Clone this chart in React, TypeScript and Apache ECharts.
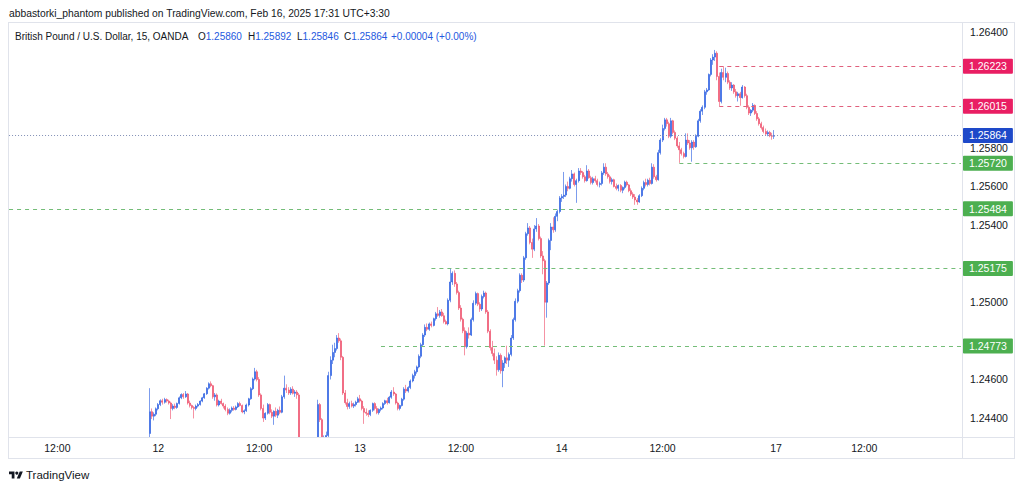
import React, { useEffect, useRef } from 'react';
import * as echarts from 'echarts';

// ---------- data ----------
// Prices stored in units of 0.00001 above 1.20000  (e.g. 5864 -> 1.25864)
const BASE = 1.2;
// bar index 0 = Feb 12 00:00 (15-minute bars); categories span the visible window
const FIRST_INDEX = -71;
const LAST_INDEX = 382;
const FIRST_BAR = -4;

// [open, high, low, close] per 15-min bar, starting at FIRST_BAR
const candles: number[][] = [
  [4320,4555,4290,4433],[4433,4450,4395,4410],[4410,4430,4388,4420],[4420,4455,4410,4448],
  [4448,4478,4440,4470],[4470,4497,4462,4490],[4490,4500,4470,4482],[4482,4505,4475,4496],[4496,4502,4480,4488],
  [4488,4495,4470,4478],[4478,4485,4395,4450],[4450,4472,4440,4462],[4462,4475,4446,4455],[4455,4480,4448,4476],
  [4476,4512,4470,4505],[4505,4528,4498,4522],[4522,4530,4500,4510],[4510,4540,4505,4525],[4525,4530,4470,4478],
  [4478,4490,4455,4465],[4465,4470,4445,4455],[4455,4462,4398,4450],[4450,4470,4440,4462],[4462,4478,4455,4470],
  [4470,4492,4465,4488],[4488,4510,4482,4505],[4505,4530,4500,4526],[4526,4560,4520,4555],[4555,4585,4548,4578],
  [4578,4590,4560,4568],[4568,4572,4500,4510],[4510,4530,4490,4520],[4520,4528,4460,4468],[4468,4495,4460,4488],
  [4488,4500,4470,4475],[4475,4480,4450,4462],[4462,4472,4435,4445],[4445,4455,4415,4425],[4425,4450,4418,4440],
  [4440,4460,4430,4452],[4452,4462,4438,4445],[4445,4465,4440,4458],[4458,4482,4452,4475],[4475,4485,4460,4465],
  [4465,4470,4425,4432],[4432,4445,4420,4438],[4438,4475,4432,4468],[4468,4505,4460,4500],[4500,4560,4495,4552],
  [4552,4610,4545,4602],[4602,4660,4595,4640],[4640,4650,4590,4600],[4600,4612,4510,4520],[4520,4528,4440,4450],
  [4450,4470,4380,4400],[4400,4430,4390,4425],[4425,4478,4418,4470],[4470,4475,4420,4430],[4430,4445,4400,4410],
  [4410,4440,4365,4435],[4435,4455,4405,4415],[4415,4448,4400,4440],[4440,4460,4420,4430],[4430,4520,4425,4510],
  [4510,4620,4500,4555],[4555,4575,4530,4545],[4545,4560,4520,4530],[4530,4560,4520,4550],[4550,4565,4522,4528],
  [4528,4545,4510,4535],[4535,4545,4500,4520],[4520,4530,4240,4260],[4260,4285,4180,4210],[4210,4240,4160,4190],
  [4190,4230,4150,4220],[4220,4260,4180,4240],[4240,4280,4200,4230],[4230,4270,4190,4255],[4255,4290,4215,4270],
  [4270,4300,4240,4290],[4290,4495,4280,4470],[4470,4478,4380,4392],[4392,4400,4260,4280],[4280,4310,4230,4290],
  [4290,4330,4260,4310],[4310,4640,4300,4620],[4620,4720,4600,4700],[4700,4780,4680,4740],[4740,4790,4715,4760],
  [4760,4830,4750,4815],[4815,4840,4790,4800],[4800,4812,4700,4715],[4715,4722,4520,4530],[4530,4545,4470,4480],
  [4480,4500,4445,4460],[4460,4485,4448,4475],[4475,4490,4455,4462],[4462,4480,4452,4470],[4470,4490,4460,4482],
  [4482,4510,4478,4500],[4500,4520,4480,4488],[4488,4495,4440,4450],[4450,4462,4370,4430],[4430,4450,4412,4425],
  [4425,4440,4405,4418],[4418,4445,4410,4440],[4440,4480,4432,4475],[4475,4482,4440,4450],[4450,4462,4420,4428],
  [4428,4450,4418,4445],[4445,4460,4435,4452],[4452,4482,4445,4475],[4475,4495,4468,4490],[4490,4505,4470,4480],
  [4480,4515,4475,4508],[4508,4545,4500,4535],[4535,4560,4515,4525],[4525,4530,4470,4478],[4478,4485,4440,4450],
  [4450,4470,4440,4465],[4465,4505,4460,4498],[4498,4560,4490,4550],[4550,4572,4530,4540],[4540,4565,4532,4558],
  [4558,4600,4550,4592],[4592,4630,4585,4620],[4620,4650,4605,4640],[4640,4672,4630,4665],[4665,4730,4658,4720],
  [4720,4790,4710,4780],[4780,4840,4770,4830],[4830,4885,4820,4870],[4870,4890,4850,4860],[4860,4895,4852,4888],
  [4888,4900,4870,4880],[4880,4920,4875,4915],[4915,4950,4905,4940],[4940,4975,4925,4932],[4932,4960,4920,4950],
  [4950,4965,4925,4930],[4930,4945,4890,4900],[4900,4910,4885,4888],[4888,5020,4880,5010],[5010,5177,5000,5105],
  [5105,5160,5090,5150],[5150,5165,5080,5095],[5095,5105,5040,5050],[5050,5060,4960,4970],[4970,4985,4900,4912],
  [4912,4920,4840,4852],[4852,4870,4725,4770],[4770,4850,4760,4840],[4840,4870,4812,4830],[4830,4920,4825,4910],
  [4910,5010,4900,4995],[4995,5055,4985,5045],[5045,5050,4980,4990],[4990,5000,4950,4965],[4965,5040,4955,5030],
  [5030,5060,5020,5048],[5048,5055,4940,4950],[4950,4960,4840,4850],[4850,4860,4750,4765],[4765,4800,4720,4735],
  [4735,4760,4680,4700],[4700,4720,4620,4650],[4650,4740,4640,4725],[4725,4735,4630,4645],[4645,4700,4560,4685],
  [4685,4720,4660,4712],[4712,4775,4680,4700],[4700,4740,4665,4730],[4730,4830,4720,4815],[4815,4920,4805,4910],
  [4910,5020,4900,5005],[5005,5070,4995,5060],[5060,5150,5050,5140],[5140,5150,5100,5115],[5115,5240,5105,5230],
  [5230,5365,5220,5355],[5355,5410,5345,5385],[5385,5395,5300,5310],[5310,5330,5230,5275],[5275,5400,5265,5380],
  [5380,5436,5365,5395],[5395,5405,5320,5330],[5330,5340,5230,5240],[5240,5265,5145,5215],[5215,5225,4775,5000],
  [5000,5110,4920,5100],[5100,5330,5090,5320],[5320,5410,5270,5390],[5390,5440,5360,5375],[5375,5460,5365,5445],
  [5445,5480,5420,5470],[5470,5550,5460,5540],[5540,5560,5520,5548],[5548,5675,5535,5555],[5555,5610,5545,5600],
  [5600,5625,5575,5590],[5590,5650,5585,5640],[5640,5685,5625,5665],[5665,5672,5600,5610],[5610,5640,5515,5630],
  [5630,5695,5620,5680],[5680,5695,5660,5672],[5672,5680,5640,5650],[5650,5660,5620,5630],[5630,5710,5625,5680],
  [5680,5690,5640,5645],[5645,5655,5610,5620],[5620,5650,5610,5640],[5640,5655,5620,5630],[5630,5640,5600,5610],
  [5610,5625,5595,5615],[5615,5680,5605,5670],[5670,5720,5660,5700],[5700,5720,5655,5665],[5665,5675,5640,5650],
  [5650,5660,5615,5625],[5625,5645,5610,5635],[5635,5640,5595,5600],[5600,5615,5580,5590],[5590,5610,5575,5605],
  [5605,5612,5570,5580],[5580,5600,5565,5595],[5595,5630,5585,5622],[5622,5630,5600,5608],[5608,5612,5570,5578],
  [5578,5590,5550,5560],[5560,5570,5535,5545],[5545,5560,5505,5530],[5530,5540,5505,5520],[5520,5560,5515,5552],
  [5552,5600,5545,5590],[5590,5630,5580,5620],[5620,5640,5600,5610],[5610,5640,5600,5632],[5632,5645,5605,5615],
  [5615,5720,5610,5700],[5700,5715,5640,5650],[5650,5660,5625,5635],[5635,5790,5630,5775],[5775,5850,5765,5840],
  [5840,5920,5830,5900],[5900,5955,5890,5945],[5945,5955,5910,5925],[5925,5935,5850,5860],[5860,5955,5850,5940],
  [5940,5945,5870,5880],[5880,5890,5840,5850],[5850,5860,5800,5810],[5810,5830,5722,5790],[5790,5800,5760,5770],
  [5770,5780,5745,5755],[5755,5875,5750,5840],[5840,5875,5815,5825],[5825,5840,5790,5800],[5800,5840,5728,5830],
  [5830,5840,5790,5805],[5805,5870,5800,5860],[5860,5950,5855,5940],[5940,6000,5930,5990],[5990,6020,5970,6010],
  [6010,6100,6000,6090],[6090,6110,6075,6100],[6100,6185,6095,6180],[6180,6265,6170,6255],[6255,6285,6230,6270],
  [6270,6307,6250,6290],[6290,6300,6150,6170],[6170,6190,6015,6040],[6040,6210,6030,6190],[6190,6223,6150,6165],
  [6165,6215,6140,6185],[6185,6195,6130,6140],[6140,6150,6100,6110],[6110,6140,6095,6125],[6125,6130,6080,6090],
  [6090,6105,6060,6070],[6070,6090,6040,6080],[6080,6090,6018,6060],[6060,6125,6055,6115],[6115,6120,6060,6070],
  [6070,6080,6000,6010],[6010,6020,5970,5980],[5980,6000,5965,5995],[5995,6032,5985,6020],[6020,6025,5970,5978],
  [5978,5990,5940,5950],[5950,5960,5915,5925],[5925,5935,5895,5905],[5905,5915,5875,5885],[5885,5900,5865,5872],
  [5872,5890,5860,5880],[5880,5888,5855,5862],[5862,5878,5842,5860],[5860,5892,5846,5864],
];

// time-axis labels: [bar index, text]
const timeLabelIdx = [-48, 0, 48, 96, 144, 192, 240, 294, 336];
const timeLabelTxt = ['12:00', '12', '12:00', '13', '12:00', '14', '12:00', '17', '12:00'];

// price-axis tick labels that are visible (others hidden behind tags)
const priceTicks = ['1.24400', '1.24600', '1.25000', '1.25400', '1.25600', '1.25800', '1.26400'];

// horizontal levels
const levelPrices = [1.26223, 1.26015, 1.25864, 1.2572, 1.25484, 1.25175, 1.24773];
const levelStarts = [267, 267, FIRST_INDEX, 248, FIRST_INDEX, 130, 106];
const levelKinds = ['res', 'res', 'last', 'sup', 'sup', 'sup', 'sup'];

const Y_MIN = 1.24302;
const Y_MAX = 1.264518;

const UP = '#2459e0';
const DOWN = '#ee4a66';
const FONT = '"Liberation Sans", Arial, sans-serif';
const TEXT = '#131722';
const BORDER = '#e0e3eb';

const p = (v: number) => +(BASE + v / 1e5).toFixed(5);

export default function App() {
  const ref = useRef<HTMLDivElement>(null);
  useEffect(() => {
    if (!ref.current) return;
    document.body.style.margin = '0';
    echarts.graphic.registerShape(
      'tvlogo',
      echarts.graphic.extendPath('M14 22H7V11H0V4h14v18zM28 22h-8l7.5-18h8L28 22z', {}) as any
    );
    const chart = echarts.init(ref.current, undefined, { renderer: 'svg' });

    const categories: string[] = [];
    for (let i = FIRST_INDEX; i <= LAST_INDEX; i++) categories.push(String(i));
    const labelMap = new Map<number, string>();
    timeLabelIdx.forEach((ix, k) => labelMap.set(ix, timeLabelTxt[k]));

    const candleData = categories.map((c) => {
      const j = Number(c) - FIRST_BAR;
      if (j < 0 || j >= candles.length) return ['-', '-', '-', '-'];
      const [o, h, l, cl] = candles[j];
      return [p(o), p(cl), p(l), p(h)];
    });

    const markData = levelPrices.map((price, k) => {
      const kind = levelKinds[k];
      const lineColor = kind === 'res' ? '#e0607c' : kind === 'sup' ? '#74bd78' : '#8390b6';
      const tagColor = kind === 'res' ? '#e91e63' : kind === 'sup' ? '#4caf50' : '#1e49c9';
      return [
        {
          coord: [String(levelStarts[k]), price],
          lineStyle: { color: lineColor, width: 1, type: kind === 'last' ? [1, 2] : [4, 4] },
          label: {
            show: true,
            position: 'end',
            distance: 2,
            formatter: price.toFixed(5),
            backgroundColor: tagColor,
            color: '#ffffff',
            fontSize: 10.5,
            fontFamily: FONT,
            padding: [2, 6, 2, 6],
            borderRadius: 1,
          },
        },
        { coord: [String(LAST_INDEX), price] },
      ];
    });

    const option: any = {
      animation: false,
      backgroundColor: '#ffffff',
      grid: { left: 8, right: 62, top: 22, bottom: 53, containLabel: false },
      xAxis: {
        type: 'category',
        data: categories,
        boundaryGap: true,
        z: 20,
        axisLine: { show: false },
        axisTick: { show: false },
        splitLine: { show: false },
        axisLabel: {
          interval: (_idx: number, val: string) => labelMap.has(Number(val)),
          formatter: (val: string) => labelMap.get(Number(val)) ?? '',
          margin: 5,
          fontSize: 10.5,
          color: TEXT,
          fontFamily: FONT,
        },
      },
      yAxis: {
        type: 'value',
        position: 'right',
        min: Y_MIN,
        max: Y_MAX,
        splitNumber: 10,
        minInterval: 0.002,
        maxInterval: 0.002,
        axisLine: { show: false },
        axisTick: { show: false },
        splitLine: { show: false },
        axisLabel: {
          showMinLabel: false,
          showMaxLabel: false,
          margin: 8,
          fontSize: 10.5,
          color: TEXT,
          fontFamily: FONT,
          formatter: (v: number) => {
            const s = v.toFixed(5);
            return priceTicks.includes(s) ? s : '';
          },
        },
      },
      series: [
        {
          type: 'candlestick',
          data: candleData,
          barWidth: 1.5,
          clip: false,
          itemStyle: {
            color: UP, color0: DOWN, borderColor: UP, borderColor0: DOWN,
            borderColorDoji: UP, borderWidth: 0.6,
          },
          markLine: {
            silent: true,
            symbol: ['none', 'none'],
            animation: false,
            data: markData,
          },
        },
      ],
      graphic: [
        // cover below the pane (candles under the bottom of the price range)
        { type: 'rect', z: 10, silent: true, shape: { x: 8, y: 437.5, width: 954, height: 45 }, style: { fill: '#ffffff' } },
        { type: 'line', z: 11, silent: true, shape: { x1: 8, y1: 22.5, x2: 1015, y2: 22.5 }, style: { stroke: BORDER, lineWidth: 1 } },
        { type: 'line', z: 11, silent: true, shape: { x1: 8, y1: 437.5, x2: 1015, y2: 437.5 }, style: { stroke: BORDER, lineWidth: 1 } },
        { type: 'line', z: 11, silent: true, shape: { x1: 8, y1: 458.5, x2: 1015, y2: 458.5 }, style: { stroke: BORDER, lineWidth: 1 } },
        { type: 'line', z: 11, silent: true, shape: { x1: 8.5, y1: 22, x2: 8.5, y2: 459 }, style: { stroke: BORDER, lineWidth: 1 } },
        { type: 'line', z: 11, silent: true, shape: { x1: 962.5, y1: 22, x2: 962.5, y2: 459 }, style: { stroke: BORDER, lineWidth: 1 } },
        { type: 'line', z: 11, silent: true, shape: { x1: 1014.5, y1: 22, x2: 1014.5, y2: 459 }, style: { stroke: BORDER, lineWidth: 1 } },
        {
          type: 'text', z: 15, x: 9, y: 13,
          style: { text: 'abbastorki_phantom published on TradingView.com, Feb 16, 2025 17:31 UTC+3:30', fontSize: 10.3, fontFamily: FONT, fill: TEXT, verticalAlign: 'middle' },
        },
        {
          type: 'text', z: 15, x: 15, y: 36,
          style: { text: 'British Pound / U.S. Dollar, 15, OANDA', fontSize: 10, fontFamily: FONT, fill: TEXT, verticalAlign: 'middle' },
        },
        ...[
          ['O', '1.25860', 198],
          ['H', '1.25892', 248],
          ['L', '1.25846', 297],
          ['C', '1.25864', 344],
        ].map(([k, v, x]) => ({
          type: 'text', z: 15, x: x as number, y: 36,
          style: {
            text: `{k|${k}}{v|${v}}`,
            verticalAlign: 'middle',
            rich: {
              k: { fontSize: 10, fontFamily: FONT, fill: TEXT, color: TEXT },
              v: { fontSize: 10, fontFamily: FONT, fill: UP, color: UP },
            },
          },
        })),
        {
          type: 'text', z: 15, x: 391, y: 36,
          style: { text: '+0.00004 (+0.00%)', fontSize: 10, fontFamily: FONT, fill: UP, verticalAlign: 'middle' },
        },
        { type: 'tvlogo', z: 15, x: 9, y: 470, scaleX: 0.39, scaleY: 0.39, style: { fill: TEXT } },
        { type: 'circle', z: 15, shape: { cx: 9 + 20 * 0.39, cy: 470 + 8 * 0.39, r: 4 * 0.39 }, style: { fill: TEXT } },
        {
          type: 'text', z: 15, x: 26, y: 475,
          style: { text: 'TradingView', fontSize: 11.5, fontFamily: FONT, fill: TEXT, verticalAlign: 'middle' },
        },
      ],
    };
    chart.setOption(option);
    return () => chart.dispose();
  }, []);
  return <div ref={ref} style={{ position: 'fixed', left: 0, top: 0, width: 1024, height: 490 }} />;
}
